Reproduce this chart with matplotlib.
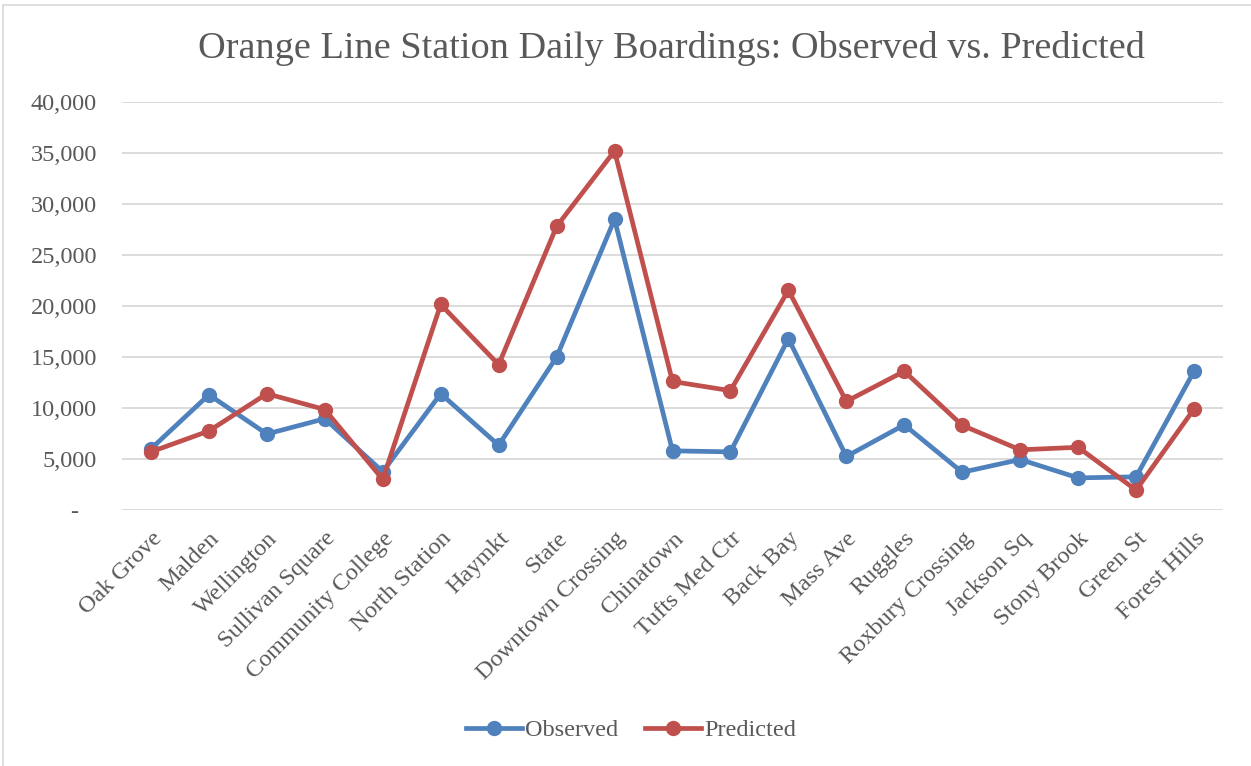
import matplotlib
matplotlib.use("Agg")
import matplotlib.pyplot as plt
from matplotlib.lines import Line2D

stations = ["Oak Grove", "Malden", "Wellington", "Sullivan Square", "Community College",
            "North Station", "Haymkt", "State", "Downtown Crossing", "Chinatown",
            "Tufts Med Ctr", "Back Bay", "Mass Ave", "Ruggles", "Roxbury Crossing",
            "Jackson Sq", "Stony Brook", "Green St", "Forest Hills"]
observed = [6000, 11300, 7450, 8950, 3750, 11400, 6350, 15000, 28500, 5800,
            5700, 16800, 5250, 8350, 3700, 4950, 3150, 3250, 13600]
predicted = [5700, 7750, 11400, 9850, 3000, 20150, 14250, 27800, 35200, 12600,
             11700, 21550, 10650, 13600, 8300, 5900, 6150, 1950, 9900]
yticks = [0, 5000, 10000, 15000, 20000, 25000, 30000, 35000, 40000]
ytick_labels = ["-   ", "5,000", "10,000", "15,000", "20,000", "25,000", "30,000", "35,000", "40,000"]

plt.rcParams['font.family'] = ['Liberation Serif', 'DejaVu Serif']
txt = '#595959'
blue = '#4F81BD'
red = '#C0504D'

fig = plt.figure(figsize=(12.51, 7.66), dpi=100)
ax = fig.add_axes([122/1251, 1-510/766, (1223-122)/1251, (510-102)/766])

x = list(range(len(stations)))
ax.plot(x, observed, color=blue, lw=3.4, marker='o', ms=10, label='Observed', solid_joinstyle='round', zorder=3)
ax.plot(x, predicted, color=red, lw=3.4, marker='o', ms=10, label='Predicted', solid_joinstyle='round', zorder=4)

ax.set_xlim(-0.5, len(stations)-0.5)
ax.set_ylim(0, 40000)
ax.set_yticks(yticks)
ax.set_yticklabels(ytick_labels, fontsize=17.5, color=txt)
ax.set_xticks(x)
ax.set_xticklabels(stations, rotation=45, ha='right', rotation_mode='anchor', fontsize=17.5, color=txt)
ax.tick_params(axis='both', length=0)
ax.tick_params(axis='y', pad=18)
ax.tick_params(axis='x', pad=13)
ax.grid(axis='y', color='#D9D9D9', lw=1.3)
ax.set_axisbelow(True)
for s in ax.spines.values():
    s.set_visible(False)

fig.text(671/1251, 1-49/766, "Orange Line Station Daily Boardings: Observed vs. Predicted",
         ha='center', va='center', fontsize=27.5, color=txt)

handles = [Line2D([], [], color=blue, lw=3.4, marker='o', ms=10),
           Line2D([], [], color=red, lw=3.4, marker='o', ms=10)]
fig.legend(handles, ['Observed', 'Predicted'], loc='center', bbox_to_anchor=(631/1251, 1-730/766),
           ncol=2, frameon=False, fontsize=17.5, handlelength=2.3, handletextpad=0.12,
           columnspacing=1.1, labelcolor=txt)

# chart border (top and left visible)
fig.add_artist(Line2D([3/1251, 3/1251], [0, 1-5/766], color='#D9D9D9', lw=1.2, transform=fig.transFigure))
fig.add_artist(Line2D([3/1251, 1], [1-5/766, 1-5/766], color='#D9D9D9', lw=1.2, transform=fig.transFigure))

fig.savefig("out.png", dpi=100, facecolor='white')
